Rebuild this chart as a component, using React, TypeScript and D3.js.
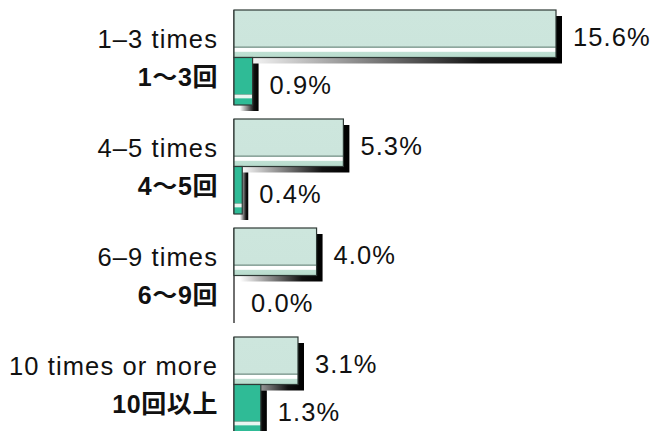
import React from "react";
import * as d3 from "d3";

const categoriesEn = ["1–3 times", "4–5 times", "6–9 times", "10 times or more"];
const categoriesJp = ["1〜3回", "4〜5回", "6〜9回", "10回以上"];
const seriesA = [15.6, 5.3, 4.0, 3.1];
const seriesB = [0.9, 0.4, 0.0, 1.3];
const seriesKeys = ["a", "b"];

const W = 652;
const H = 431;
const X0 = 234;
const SH = 6;

export default function App() {
  const x = d3.scaleLinear().domain([0, 15.6]).range([0, 322]);
  const y = d3
    .scaleBand<string>()
    .domain(categoriesEn)
    .range([10, 432])
    .paddingInner(14 / 109)
    .paddingOuter(0);
  const sub = d3.scaleBand<string>().domain(seriesKeys).range([0, y.bandwidth()]).padding(0);
  const bh = sub.bandwidth();
  const txtFont = "'Liberation Sans', Arial, Helvetica, sans-serif";
  const jpFont = "'Liberation Sans', Arial, 'Noto Sans CJK JP', sans-serif";

  const bar = (v: number, top: number, fillId: string, key: string) => {
    const w = x(v);
    if (w <= 0) return null;
    return (
      <g key={key}>
        <rect x={X0 + SH} y={top + SH} width={w} height={bh} fill="url(#shadowGrad)" />
        <rect
          x={X0}
          y={top}
          width={w}
          height={bh}
          fill={`url(#${fillId})`}
          stroke="#2f3a36"
          strokeWidth={1.2}
        />
      </g>
    );
  };

  return (
    <svg
      width={W}
      height={H}
      style={{ position: "absolute", left: 0, top: 0, background: "#fff" }}
    >
      <defs>
        <linearGradient id="shadowGrad" x1="0" y1="0" x2="1" y2="0">
          <stop offset="0" stopColor="#ffffff" />
          <stop offset="0.75" stopColor="#111111" />
          <stop offset="1" stopColor="#000000" />
        </linearGradient>
        <linearGradient id="lightGrad" x1="0" y1="0" x2="0" y2="1">
          <stop offset="0" stopColor="#cde6dd" />
          <stop offset="0.765" stopColor="#cce5dc" />
          <stop offset="0.77" stopColor="#8ea79e" />
          <stop offset="0.79" stopColor="#8ea79e" />
          <stop offset="0.80" stopColor="#ffffff" />
          <stop offset="0.87" stopColor="#ffffff" />
          <stop offset="0.89" stopColor="#bfe0d3" />
          <stop offset="1" stopColor="#b8dccd" />
        </linearGradient>
        <linearGradient id="darkGrad" x1="0" y1="0" x2="0" y2="1">
          <stop offset="0" stopColor="#2fbb96" />
          <stop offset="0.77" stopColor="#2fbb96" />
          <stop offset="0.78" stopColor="#8fb5a8" />
          <stop offset="0.80" stopColor="#eaf6f1" />
          <stop offset="0.85" stopColor="#eaf6f1" />
          <stop offset="0.87" stopColor="#2fbb96" />
          <stop offset="1" stopColor="#2fbb96" />
        </linearGradient>
      </defs>
      {categoriesEn.map((c, i) => {
        const g = y(c) as number;
        const ta = g + (sub("a") as number);
        const tb = g + (sub("b") as number);
        return (
          <g key={c}>
            <line
              x1={X0}
              x2={X0}
              y1={g}
              y2={g + y.bandwidth()}
              stroke="#222"
              strokeWidth={1.3}
            />
            {bar(seriesA[i], ta, "lightGrad", "a")}
            {bar(seriesB[i], tb, "darkGrad", "b")}
            <text
              x={218}
              y={g + 38}
              textAnchor="end"
              fontFamily={txtFont}
              fontSize={25.5}
              letterSpacing={1.1}
              fill="#111"
            >
              {c}
            </text>
            <text
              x={218}
              y={g + 76}
              textAnchor="end"
              fontFamily={jpFont}
              fontSize={25}
              fontWeight="bold"
              letterSpacing={0.6}
              fill="#111"
            >
              {categoriesJp[i]}
            </text>
            <text
              x={X0 + x(seriesA[i]) + 17}
              y={ta + bh / 2 + 12.5}
              fontFamily={txtFont}
              fontSize={25.5}
              letterSpacing={1.1}
              fill="#111"
            >
              {seriesA[i].toFixed(1) + "%"}
            </text>
            <text
              x={X0 + x(seriesB[i]) + 17}
              y={tb + bh / 2 + 12.5}
              fontFamily={txtFont}
              fontSize={25.5}
              letterSpacing={1.1}
              fill="#111"
            >
              {seriesB[i].toFixed(1) + "%"}
            </text>
          </g>
        );
      })}
    </svg>
  );
}
